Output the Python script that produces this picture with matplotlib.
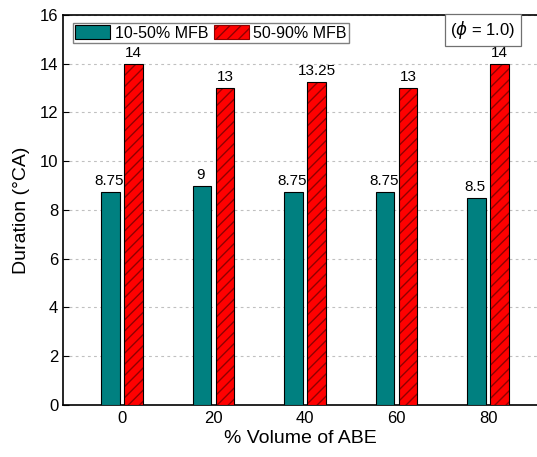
import matplotlib.pyplot as plt
import numpy as np
from matplotlib.patches import Patch

plt.rcParams['font.family'] = ['Liberation Sans', 'DejaVu Sans']

# ABE blend ratio and burn durations
abe_volume = [0, 20, 40, 60, 80]
mfb_10_50 = [8.75, 9, 8.75, 8.75, 8.5]
mfb_50_90 = [14, 13, 13.25, 13, 14]
labels_10_50 = ['8.75', '9', '8.75', '8.75', '8.5']
labels_50_90 = ['14', '13', '13.25', '13', '14']

teal = '#008080'
red = '#ff0000'
width = 4.0
offset = 2.5

fig = plt.figure(figsize=(5.37, 4.57), dpi=100)
ax = fig.add_axes([0.1173, 0.1138, 0.8827, 0.8534])

x = np.array(abe_volume, dtype=float)
ax.bar(x - offset, mfb_10_50, width, color=teal, edgecolor='black', linewidth=0.8, zorder=3)
# hatch drawn in dark red, outline in black on top
ax.bar(x + offset, mfb_50_90, width, color=red, edgecolor='#900000', hatch='///',
       linewidth=0, zorder=3)
ax.bar(x + offset, mfb_50_90, width, fill=False, edgecolor='black', linewidth=0.8, zorder=4)

for xi, v, s in zip(x - offset, mfb_10_50, labels_10_50):
    ax.text(xi - 0.3, v + 0.15, s, ha='center', va='bottom', fontsize=11)
for xi, v, s in zip(x + offset, mfb_50_90, labels_50_90):
    ax.text(xi, v + 0.15, s, ha='center', va='bottom', fontsize=11)

ax.set_xlim(-12.9, 90.7)
ax.set_ylim(0, 16)
ax.set_yticks(range(0, 17, 2))
ax.set_xticks(abe_volume)
ax.tick_params(axis='y', direction='in', length=4, labelsize=12)
ax.tick_params(axis='x', length=0, labelsize=12, pad=4)
ax.yaxis.grid(True, linestyle=(0, (2.5, 3)), color='#c0c0c0', linewidth=0.8, zorder=0)
ax.spines['right'].set_visible(False)
for sp in ['left', 'top', 'bottom']:
    ax.spines[sp].set_linewidth(1.2)

ax.set_xlabel('% Volume of ABE', fontsize=14, labelpad=3)
ax.set_ylabel('Duration (°CA)', fontsize=14, labelpad=7)

handles = [Patch(facecolor=teal, edgecolor='black', linewidth=0.8),
           Patch(facecolor=red, edgecolor='#900000', hatch='///', linewidth=0.8)]
leg = ax.legend(handles, ['10-50% MFB', '50-90% MFB'], loc='upper left',
                bbox_to_anchor=(0.021, 0.98), ncol=2, fontsize=11.5, frameon=True,
                fancybox=False, edgecolor='#808080', framealpha=1,
                handlelength=2.2, handleheight=1.0, handletextpad=0.3,
                columnspacing=0.3, borderpad=0.15, borderaxespad=0)
leg.get_frame().set_linewidth(1.0)

ax.text(0.886, 0.962, r'($\phi$ = 1.0)', transform=ax.transAxes, ha='center', va='center',
        fontsize=12, bbox=dict(boxstyle='square,pad=0.3', facecolor='white',
                               edgecolor='#707070', linewidth=0.9))

fig.savefig('out.png', dpi=100)
